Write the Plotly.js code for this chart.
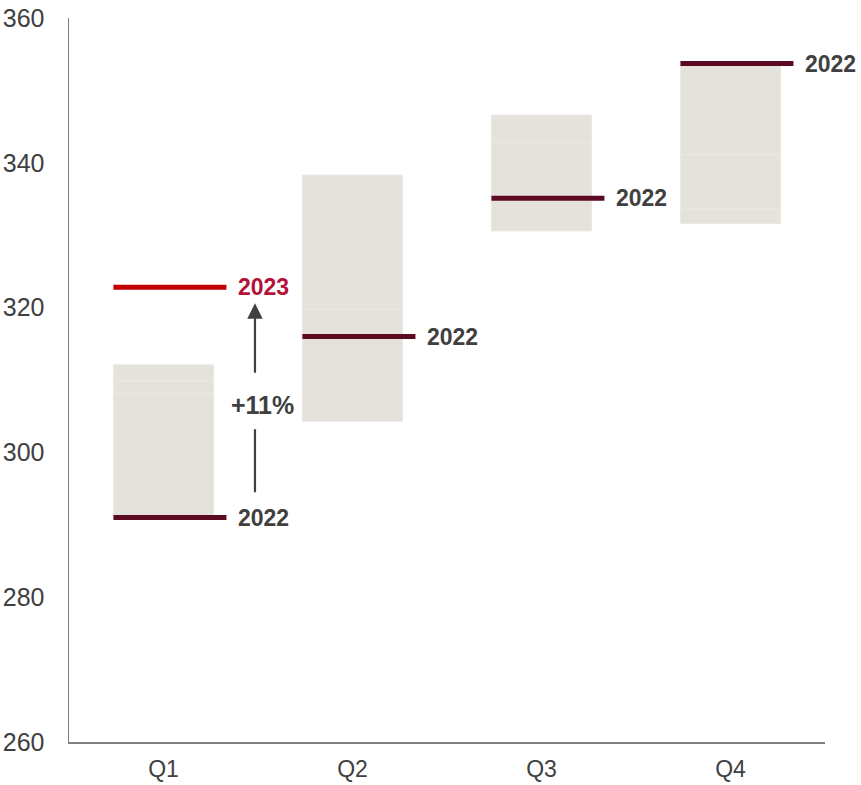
<!DOCTYPE html>
<html>
<head>
<meta charset="utf-8">
<script src="https://cdn.plot.ly/plotly-3.0.1.min.js"></script>
<style>html,body{margin:0;padding:0;background:#fff;}#chart{width:861px;height:785px;}</style>
</head>
<body>
<div id="chart"></div>
<script>
// ---- data ----
const quarters = ["Q1", "Q2", "Q3", "Q4"];
const values2022 = [291.0, 316.0, 335.1, 353.7];
const value2023Q1 = 322.8;
const changeLabel = "+11%";
// range boxes (stacked segment boundaries per quarter)
const boundsQ1 = [291.0, 308.2, 309.9, 312.1];
const boundsQ2 = [304.3, 319.8, 338.3];
const boundsQ3 = [330.6, 342.8, 346.6];
const boundsQ4 = [331.6, 333.6, 341.2, 353.6];
const yTicks = [260, 280, 300, 320, 340, 360];

// ---- styling ----
const boxColor = "#e5e2dc";
const seamColor = "#eae8e2";
const line22 = "#5c0a22";
const line23 = "#c00000";
const text23 = "#b5103a";
const textDark = "#404040";
const font = "Liberation Sans, Arial, sans-serif";
const barW = 0.53, lineL = -0.265, lineR = 0.333;

const traces = [];
const allBounds = [boundsQ1, boundsQ2, boundsQ3, boundsQ4];
allBounds.forEach((b, i) => {
  for (let k = 0; k < b.length - 1; k++) {
    traces.push({
      type: "bar", x: [i], base: [b[k]], y: [b[k + 1] - b[k]], width: barW,
      marker: {color: boxColor, line: {color: seamColor, width: 1}},
      hoverinfo: "skip", showlegend: false
    });
  }
});
values2022.forEach((v, i) => {
  traces.push({
    type: "scatter", mode: "lines", x: [i + lineL, i + lineR], y: [v, v],
    line: {color: line22, width: 5}, hoverinfo: "skip", showlegend: false
  });
});
traces.push({
  type: "scatter", mode: "lines", x: [0 + lineL, 0 + lineR], y: [value2023Q1, value2023Q1],
  line: {color: line23, width: 5}, hoverinfo: "skip", showlegend: false
});

const arrowX = 0.484;
const labelY = (values2022[0] + value2023Q1) / 2 - 0.3;
// lower arrow stem
traces.push({
  type: "scatter", mode: "lines", x: [arrowX, arrowX], y: [values2022[0] + 3.5, labelY - 3.4],
  line: {color: textDark, width: 2.2}, hoverinfo: "skip", showlegend: false
});

const annotations = [];
values2022.forEach((v, i) => {
  annotations.push({
    x: i + lineR, y: v, xref: "x", yref: "y", text: "<b>2022</b>", showarrow: false,
    xanchor: "left", yanchor: "middle", xshift: 10,
    font: {family: font, size: 23, color: textDark}
  });
});
annotations.push({
  x: 0 + lineR, y: value2023Q1, xref: "x", yref: "y", text: "<b>2023</b>", showarrow: false,
  xanchor: "left", yanchor: "middle", xshift: 10,
  font: {family: font, size: 23, color: text23}
});
annotations.push({
  x: arrowX, y: labelY, xref: "x", yref: "y", text: "<b>" + changeLabel + "</b>", showarrow: false,
  xanchor: "center", yanchor: "middle", xshift: 8,
  font: {family: font, size: 25, color: textDark}
});
annotations.push({
  x: arrowX, y: value2023Q1 - 2.2, ax: arrowX, ay: labelY + 4.2,
  xref: "x", yref: "y", axref: "x", ayref: "y", text: "", showarrow: true,
  arrowhead: 2, arrowsize: 1.4, arrowwidth: 2.2, arrowcolor: textDark, standoff: 0
});

const layout = {
  width: 861, height: 785,
  margin: {l: 69, r: 36, t: 18, b: 43},
  paper_bgcolor: "#fff", plot_bgcolor: "#fff",
  barmode: "overlay", showlegend: false,
  xaxis: {
    range: [-0.5, 3.5], tickmode: "array", tickvals: [0, 1, 2, 3], ticktext: quarters,
    showline: true, linecolor: "#7f7f7f", linewidth: 1.5, showgrid: false, zeroline: false,
    ticks: "", ticklabelstandoff: 6, tickfont: {family: font, size: 23, color: textDark}
  },
  yaxis: {
    range: [260, 360], tickmode: "array", tickvals: yTicks,
    showline: true, linecolor: "#7f7f7f", linewidth: 1.5, showgrid: false, zeroline: false,
    ticks: "", ticklabelstandoff: 18, tickfont: {family: font, size: 25, color: textDark}
  },
  annotations: annotations
};

Plotly.newPlot("chart", traces, layout, {displayModeBar: false, staticPlot: true});
</script>
</body>
</html>
